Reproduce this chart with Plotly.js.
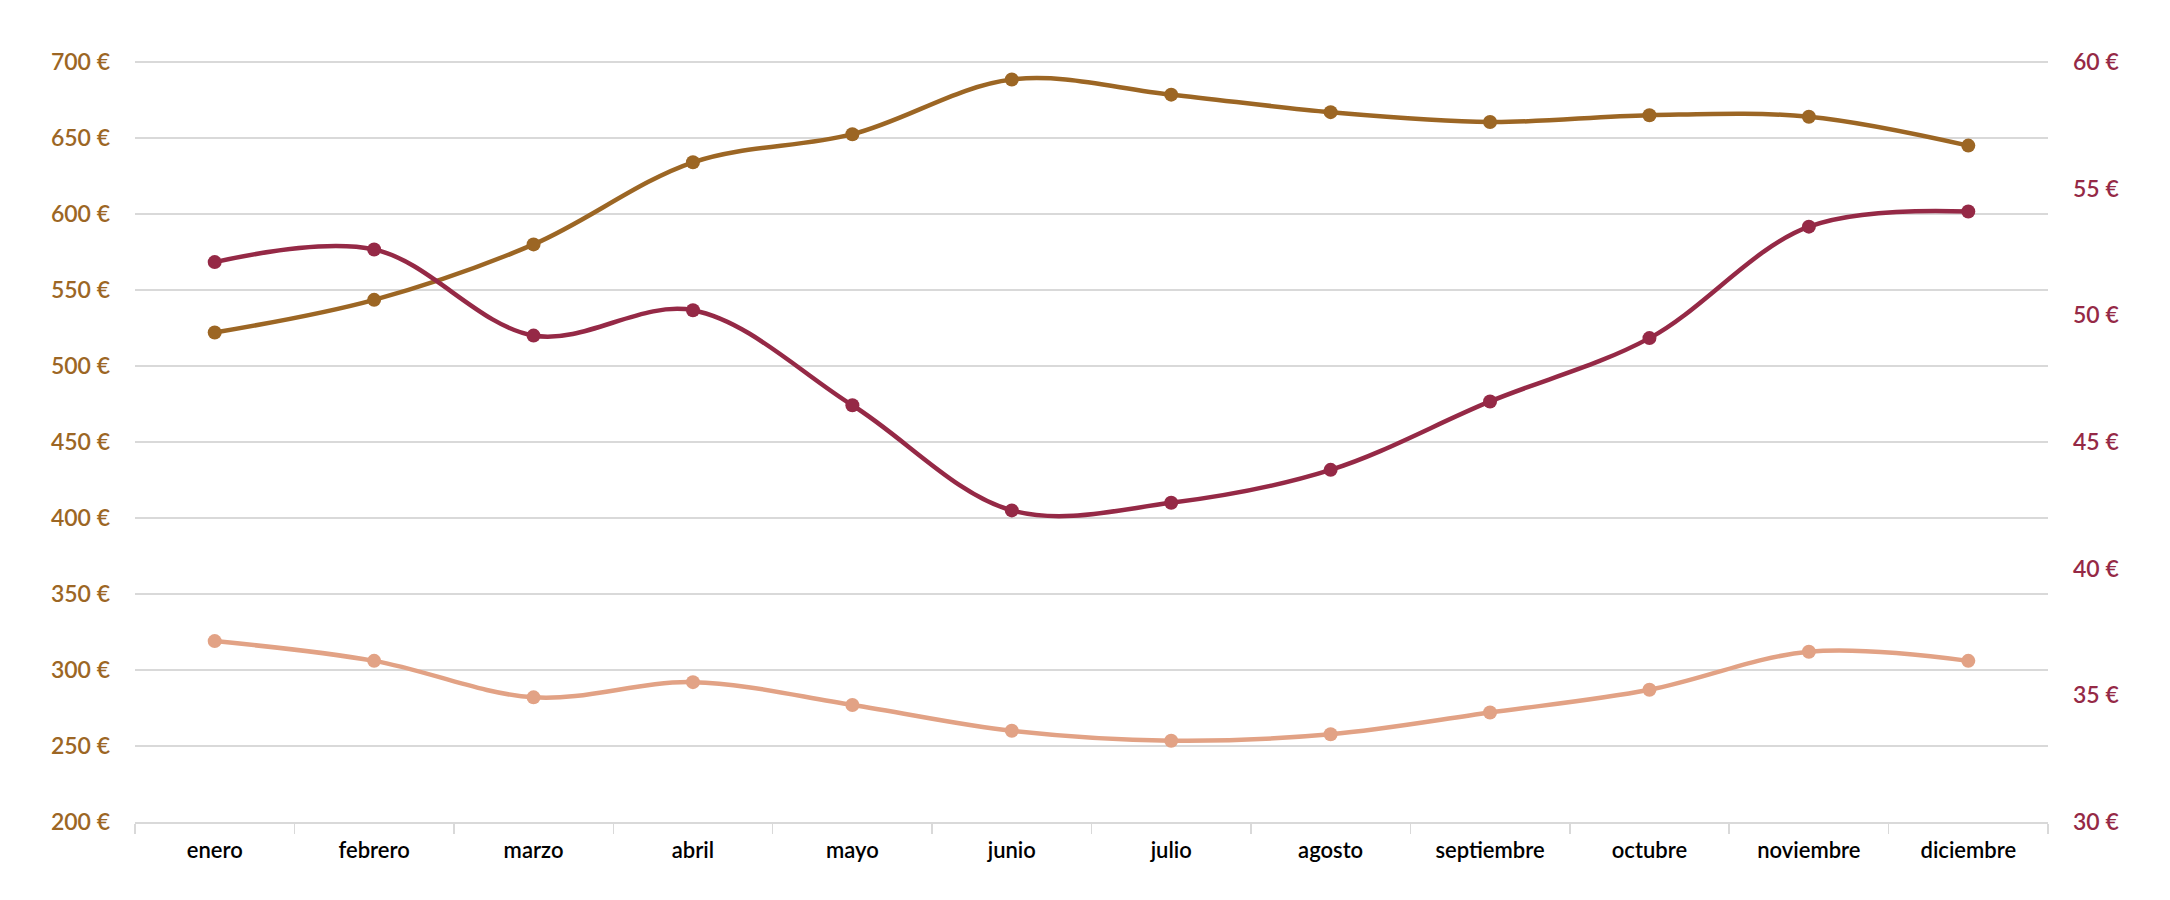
<!DOCTYPE html>
<html>
<head>
<meta charset="utf-8">
<script src="https://cdn.plot.ly/plotly-3.0.1.min.js"></script>
<style>
html,body{margin:0;padding:0;background:#fff;}
#chart{width:2170px;height:900px;}
</style>
</head>
<body>
<div id="chart"></div>
<script>
const months = ["enero","febrero","marzo","abril","mayo","junio","julio","agosto","septiembre","octubre","noviembre","diciembre"];
const goldSeries = [522, 543.5, 580, 634, 652.5, 688.5, 678.5, 667, 660.5, 665, 664, 645];
const salmonSeries = [319, 306, 282, 292, 277, 260, 253.5, 257.7, 272, 287, 312, 306];
const redSeries = [52.1, 52.6, 49.2, 50.2, 46.45, 42.3, 42.6, 43.9, 46.6, 49.1, 53.5, 54.1];

const gold = "#9C6624";
const red = "#952946";
const salmon = "#E2A285";
const fontFam = "Lato, 'Open Sans', sans-serif";

function trace(y, color, axis) {
  return {
    x: months, y: y, yaxis: axis, type: "scatter", mode: "lines+markers",
    line: {color: color, width: 4.5, shape: "spline", smoothing: 1},
    marker: {color: color, size: 14},
    hoverinfo: "skip", showlegend: false
  };
}

const data = [
  trace(goldSeries, gold, "y"),
  trace(salmonSeries, salmon, "y"),
  trace(redSeries, red, "y2")
];

const layout = {
  width: 2170, height: 900,
  margin: {l: 135, r: 122, t: 60, b: 78},
  paper_bgcolor: "#fff", plot_bgcolor: "#fff",
  showlegend: false,
  xaxis: {
    type: "category",
    tickson: "boundaries",
    ticks: "outside", ticklen: 10, tickwidth: 1.5, tickcolor: "#d9d9d9",
    showline: true, linecolor: "#d9d9d9", linewidth: 1.5,
    showgrid: false, zeroline: false,
    ticklabelstandoff: 8,
    tickfont: {family: fontFam, size: 22, color: "#000", weight: 600},
    range: [-0.5, 11.5]
  },
  yaxis: {
    range: [200, 701.3], dtick: 50, tick0: 200,
    ticksuffix: " €",
    showgrid: true, gridcolor: "#d9d9d9", gridwidth: 1.5,
    zeroline: false, showline: false,
    ticks: "", ticklabelstandoff: 24,
    tickfont: {family: fontFam, size: 23, color: gold, weight: 600}
  },
  yaxis2: {
    overlaying: "y", side: "right",
    range: [30, 60.078], dtick: 5, tick0: 30,
    ticksuffix: " €",
    showgrid: false, zeroline: false, showline: false,
    ticks: "", ticklabelstandoff: 24,
    tickfont: {family: fontFam, size: 23, color: red, weight: 600}
  }
};

Plotly.newPlot("chart", data, layout, {displayModeBar: false, staticPlot: true});
</script>
</body>
</html>
